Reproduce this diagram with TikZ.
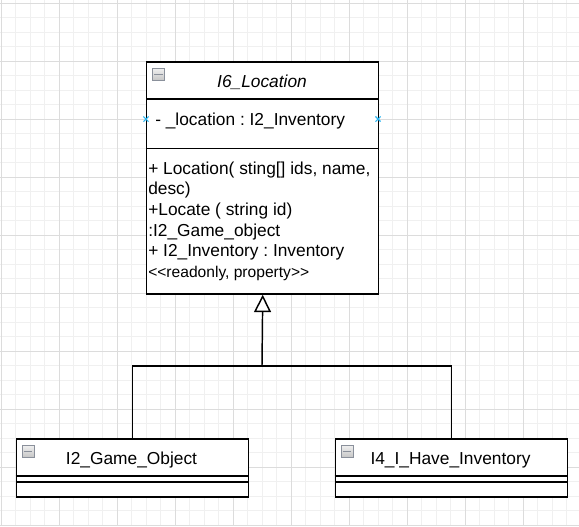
\documentclass[tikz,border=0pt]{standalone}
\usepackage{fontspec}
\setmainfont{Liberation Sans}
\usetikzlibrary{arrows.meta,shapes.misc}
\definecolor{minorgrid}{HTML}{F0F0F0}
\definecolor{majorgrid}{HTML}{DCDCDC}
\definecolor{iconedge}{HTML}{8A909B}
\definecolor{pointblue}{HTML}{29B6F2}
\newcommand\umlfont{\fontsize{13}{15.5}\selectfont\frenchspacing}
\begin{document}
\begin{tikzpicture}[x=0.75pt,y=-0.75pt,
    classbox/.style={draw,line width=1.1pt,fill=white,anchor=north west,minimum width=174pt,inner sep=0pt},
    ttl/.style={font=\umlfont,anchor=base,inner sep=0pt},
    member/.style={font=\umlfont,inner sep=0pt,align=left},
    icon/.style={draw=iconedge,top color=gray!12,bottom color=gray!45,minimum size=9pt,inner sep=0pt,line width=0.6pt,
      path picture={\draw[line width=0.9pt] ([xshift=-3.2pt]path picture bounding box.center) -- ([xshift=3.2pt]path picture bounding box.center);}},
    conn/.style={line width=1.1pt},
    xpoint/.style={cross out,draw=pointblue,line width=0.8pt,minimum size=3pt,inner sep=0pt}]
  \useasboundingbox (0,0) rectangle (579,526);
  \fill[white] (0,0) rectangle (579,526);
  \foreach \k in {0,...,39} \draw[minorgrid,line width=0.75pt] ({1+14.5*\k},0) -- ({1+14.5*\k},526);
  \foreach \k in {0,...,36} \draw[minorgrid,line width=0.75pt] (0,{3.3+14.5*\k}) -- (579,{3.3+14.5*\k});
  \foreach \k in {0,4,...,36} \draw[majorgrid,line width=0.75pt] ({1+14.5*\k},0) -- ({1+14.5*\k},526);
  \foreach \k in {0,4,...,36} \draw[majorgrid,line width=0.75pt] (0,{3.3+14.5*\k}) -- (579,{3.3+14.5*\k});

  \node[classbox,minimum height=174pt] (loc) at (146,61.3) {};
  \node[classbox,minimum height=43.5pt] (gobj) at (15.5,438.3) {};
  \node[classbox,minimum height=43.5pt] (haveinv) at (334.5,438.3) {};
  \foreach \n/\y in {loc/99,loc/148.3,gobj/476,gobj/481.8,haveinv/476,haveinv/481.8}
    \draw[conn] (\n.west |- 0,\y) -- (\n.east |- 0,\y);

  \node[icon] (loc-icon) at (158.5,74.3) {};
  \node[icon] (gobj-icon) at (28,451.3) {};
  \node[icon] (haveinv-icon) at (347,451.3) {};

  \node[ttl,font=\umlfont\itshape] (loc-title) at (262,87.3) {I6\_Location};
  \node[ttl] (gobj-title) at (131.5,464.3) {I2\_Game\_Object};
  \node[ttl] (haveinv-title) at (450.5,464.3) {I4\_I\_Have\_Inventory};

  \node[member,anchor=base west] (loc-attr) at (155,125) {- \_location : I2\_Inventory};
  \node[xpoint] (loc-pl) at (146,119) {};
  \node[xpoint] (loc-pr) at (378,119) {};
  \node[member,anchor=north west] (loc-ops) at (148,161.3) {+ Location( sting[] ids, name,\\desc)\\+Locate ( string id)\\:I2\_Game\_object\\+ I2\_Inventory : Inventory\\{\fontsize{11.7}{15.5}\selectfont\textless\kern0pt\textless readonly, property\textgreater\kern0pt\textgreater}};

  \coordinate (split) at (262,365.8);
  \draw[conn] (gobj.north) |- (split) -| (haveinv.north);
  \draw[conn,-{Triangle[fill=white,length=13pt,width=12.75pt]}] (split) -- (loc.south);
\end{tikzpicture}
\end{document}
